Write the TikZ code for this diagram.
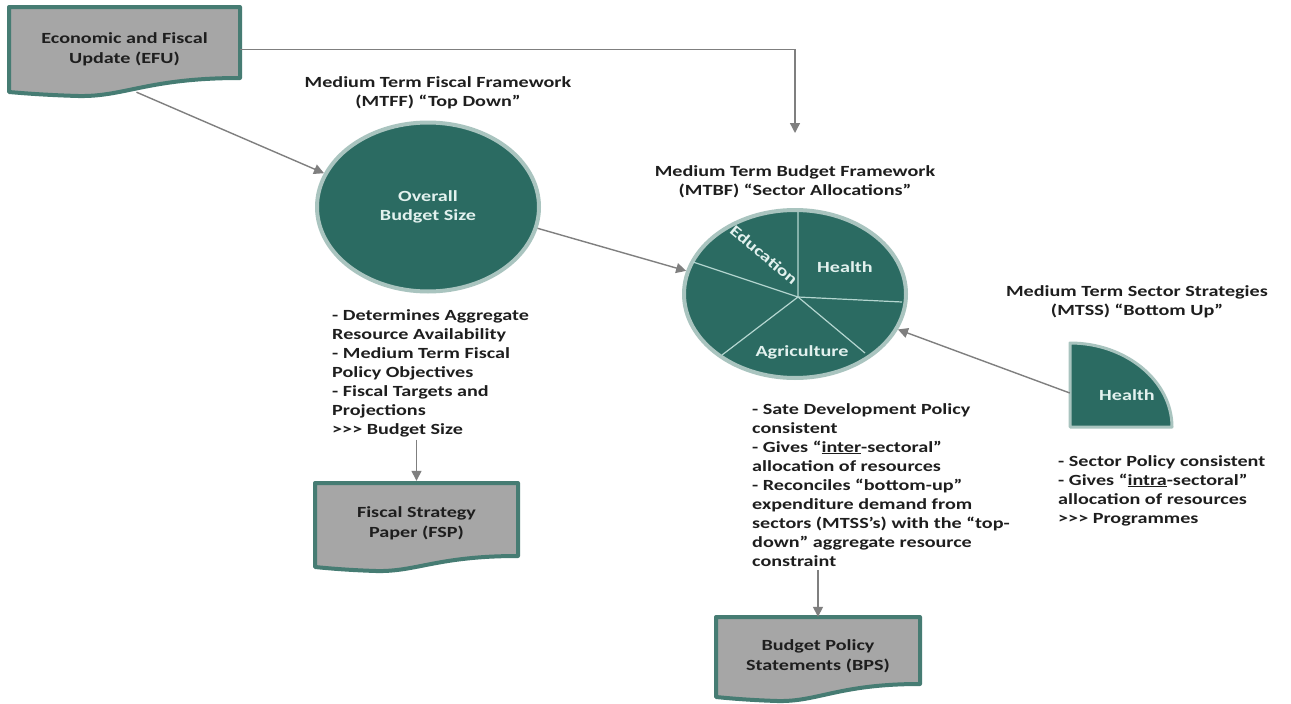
\documentclass[tikz,border=0pt]{standalone}
\usepackage{fontspec}
\setmainfont{Carlito}[FakeStretch=1.3]
\usetikzlibrary{arrows.meta,shapes.geometric}
\definecolor{tealf}{HTML}{2B6B62}
\definecolor{rimc}{HTML}{A9C4BF}
\definecolor{docb}{HTML}{467C73}
\definecolor{docf}{HTML}{A6A6A6}
\definecolor{arrc}{HTML}{7F7F7F}
\definecolor{txtc}{HTML}{1E1E1E}
\definecolor{lightt}{HTML}{E2F1EE}
\definecolor{secl}{HTML}{B4D6D0}
\newcommand\docshape[5]{% x0 y0 x1 yLeft yRight
  \draw[docline] (#1,#2) -- (#3,#2) -- (#3,#5)
    .. controls ({#1+0.6*(#3-#1)},{#5}) and ({#1+0.5*(#3-#1)},{#4+5}) .. ({#1+0.3*(#3-#1)},{#4+4})
    .. controls ({#1+0.15*(#3-#1)},{#4+3}) and ({#1+0.05*(#3-#1)},{#4+1}) .. (#1,#4) -- cycle;}
\newcommand\gtgtgt{>{}>{}>}
\begin{document}
\begin{tikzpicture}[x=1pt,y=-1pt,
  every node/.style={font=\bfseries\fontsize{15.5}{19}\selectfont, text=txtc, inner sep=0pt},
  docline/.style={fill=docf, draw=docb, line width=4pt, line join=round},
  doctxt/.style={align=center, font=\bfseries\fontsize{15.5}{20}\selectfont},
  bigell/.style={ellipse, fill=tealf, draw=rimc, line width=4pt, minimum width=222pt},
  pielab/.style={text=lightt},
  sector/.style={draw=secl, line width=1.2pt},
  arr/.style={draw=arrc, line width=1.4pt, -{Triangle[length=10pt,width=10pt]}},
  ttl/.style={align=center, anchor=north},
  blk/.style={align=left, anchor=north west}]
\fill[white] (0,0) rectangle (1291,704);
\useasboundingbox (0,0) rectangle (1291,704);

% document shapes
\docshape{9}{7}{240}{92}{78}
\node[doctxt, minimum width=231pt, minimum height=85pt] (efu) at (124.5,49.5) {Economic and Fiscal\\Update (EFU)};
\docshape{315}{483}{518}{567}{556}
\node[doctxt, minimum width=203pt, minimum height=84pt] (fsp) at (416.5,523) {Fiscal Strategy\\Paper (FSP)};
\docshape{716}{617}{920}{697}{684}
\node[doctxt, minimum width=204pt, minimum height=78pt] (bps) at (818,656) {Budget Policy\\Statements (BPS)};

% overall budget size
\node[bigell, minimum height=169pt, text=lightt, align=center] (ov) at (428,207) {Overall\\Budget Size};

% pie
\node[bigell, minimum height=168pt] (pie) at (795,294) {};
\coordinate (pc) at (798,297);
\draw[sector] (pc) -- (798,212) (pc) -- (902,302) (pc) -- (865,353) (pc) -- (722,355) (pc) -- (693,262);
\node[pielab, rotate=-40] (edu) at (764,255) {Education};
\node[pielab] (hl) at (845,267) {Health};
\node[pielab] (agr) at (802,352) {Agriculture};

% MTSS quarter shape
\draw[fill=tealf, draw=rimc, line width=3pt, line join=round] (1070,427) -- (1070,343) .. controls (1126,343) and (1172,381) .. (1172,427) -- cycle;
\node[minimum width=102pt, minimum height=84pt] (mtss) at (1121,385) {};
\node[pielab] (mtssl) at (1127,395) {Health};

% titles
\node[ttl] (t-mtff) at (438,76) {Medium Term Fiscal Framework\\(MTFF) “Top Down”};
\node[ttl] (t-mtbf) at (795,165) {Medium Term Budget Framework\\(MTBF) “Sector Allocations”};
\node[ttl] (t-mtss) at (1137,285) {Medium Term Sector Strategies\\(MTSS) “Bottom Up”};

% text blocks
\node[blk] (lt) at (332,309) {- Determines Aggregate\\Resource Availability\\- Medium Term Fiscal\\Policy Objectives\\- Fiscal Targets and\\Projections\\\gtgtgt{} Budget Size};
\node[blk] (mt) at (752,403) {- Sate Development Policy\\consistent\\- Gives “\underline{inter}-sectoral”\\allocation of resources\\- Reconciles “bottom-up”\\expenditure demand from\\sectors (MTSS’s) with the “top-\\down” aggregate resource\\constraint};
\node[blk] (rt) at (1058,455) {- Sector Policy consistent\\- Gives “\underline{intra}-sectoral”\\allocation of resources\\\gtgtgt{} Programmes};

% connectors
\coordinate (t1) at (795,133);
\draw[arr] (efu.east) -| (t1);
\draw[arr] ([xshift=12pt]efu.south) -- (ov.162);
\draw[arr] (ov.-11) -- (pie.168);
\draw[arr] ([yshift=-8pt]mtss.west) -- (pie.-19);
\draw[arr, shorten <=3pt] (lt.south -| fsp.north) -- (fsp.north);
\draw[arr, shorten <=4pt] (mt.south -| bps.north) -- (bps.north);
\end{tikzpicture}
\end{document}
